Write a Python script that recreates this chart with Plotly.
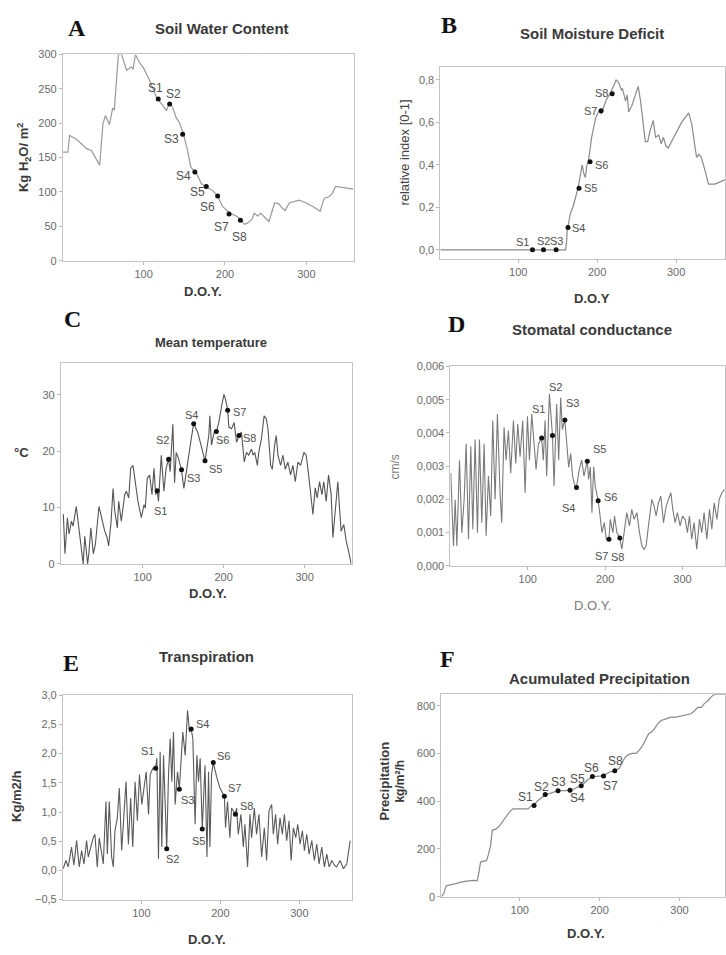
import plotly.graph_objects as go

W, H = 726, 955

SAMPLE_NAME = ["S1", "S2", "S3", "S4", "S5", "S6", "S7", "S8"]
SAMPLE_DAY = [118, 132, 148, 163, 177, 191, 205, 219]

# A - soil water content (Kg H2O / m2)
SWC_DAY = [1, 7, 9, 17, 30, 36, 46, 50, 53, 58, 62, 64, 69, 73, 79, 85, 87, 90, 94, 100,
           107, 116, 124, 128, 132, 136, 140, 144, 149, 154, 158, 165, 171, 177, 185, 191,
           197, 206, 214, 219, 224, 228, 233, 236, 240, 244, 251, 254, 261, 266, 270, 274,
           279, 285, 291, 300, 308, 317, 322, 328, 332, 336, 343, 358]
SWC_VAL = [158, 158, 182, 177, 163, 160, 139, 199, 211, 198, 222, 219, 300, 300, 277, 282,
           278, 300, 290, 280, 263, 237, 225, 218, 230, 222, 208, 201, 184, 160, 136, 127,
           112, 108, 102, 94, 79, 69, 65, 60, 53, 55, 60, 69, 65, 69, 60, 57, 84, 83, 77, 73,
           84, 86, 88, 84, 79, 72, 91, 93, 98, 108, 107, 104]
SWC_SAMPLE = [235, 228, 184, 129, 108, 94, 68, 59]

# B - soil moisture deficit (relative index)
SMD_DAY = [1, 160, 161, 162, 166, 170, 176, 179, 181, 183, 185, 187, 189, 193, 198, 203,
           205, 208, 212, 217, 221, 224, 227, 231, 232, 236, 238, 240, 244, 248, 252, 255,
           259, 261, 264, 267, 271, 274, 278, 281, 284, 287, 290, 297, 307, 316, 320, 323,
           326, 329, 332, 337, 341, 349, 362]
SMD_VAL = [0, 0, 0.03, 0.09, 0.17, 0.21, 0.295, 0.37, 0.40, 0.36, 0.34, 0.40, 0.42, 0.53,
           0.62, 0.66, 0.64, 0.67, 0.71, 0.74, 0.77, 0.80, 0.79, 0.75, 0.76, 0.70, 0.73,
           0.65, 0.68, 0.73, 0.77, 0.70, 0.56, 0.51, 0.51, 0.56, 0.61, 0.53, 0.54, 0.50,
           0.53, 0.49, 0.48, 0.53, 0.60, 0.645, 0.59, 0.51, 0.435, 0.45, 0.435, 0.37, 0.31,
           0.31, 0.33]
SMD_SAMPLE = [0, 0, 0, 0.105, 0.29, 0.415, 0.655, 0.735]

# C - mean temperature (deg C)
TMP_DAY = [2, 4, 7, 9, 12, 14, 18, 21, 24, 26.5, 28.5, 32, 33.5, 36, 39, 41.6, 46, 48, 53,
           56, 58, 61, 63.4, 65.5, 68.7, 70.4, 73.6, 77.8, 79.8, 82.8, 85.2, 88, 92, 94.2,
           98.3, 101.6, 103.2, 105.7, 108.6, 111.5, 114, 116, 118, 119.5, 123, 126.2, 129,
           132, 134, 137.3, 139.4, 141.4, 144.3, 148, 150.9, 153.7, 156.7, 160, 163, 168,
           174.3, 177, 181.7, 183, 185, 188.3, 191, 194, 197.5, 200.4, 202.4, 205, 206.5,
           209.8, 213, 216, 219, 222, 225.5, 228.3, 231, 234.4, 236.4, 238.5, 241.7, 243.4,
           246.7, 250, 252.8, 254.8, 258.1, 260.2, 263, 265, 267.1, 270.4, 273.3, 276.2,
           279.4, 282.7, 285.6, 288.5, 291.8, 295.1, 299.2, 302, 305, 308.2, 310.3, 313.2,
           315.6, 318.5, 321.4, 323.8, 326.7, 329.6, 332.9, 335, 337.8, 341.1, 343.2, 345.2,
           348.5, 351.4, 354.3, 357.6]
TMP_VAL = [8.8, 1.8, 8.2, 5.3, 7.6, 6.7, 10.2, 6.4, 3.5, 0, 4.9, 0, 1.8, 6.4, 1.8, 3.5,
           10.2, 8.8, 5.9, 4.7, 3.2, 7.6, 13.4, 9.4, 6.4, 11.1, 7.6, 12.3, 12.9, 11.7, 17,
           17.5, 13.4, 11.1, 8.2, 10.5, 9.9, 15.2, 15.8, 12.3, 17, 12.3, 13.0, 11.1, 19.3,
           12.9, 17, 18.6, 16.4, 24.8, 14.4, 19.8, 18.7, 16.7, 13.4, 16.3, 19.3, 22.2, 24.9,
           23.4, 19.8, 18.3, 22.8, 26.3, 21.1, 23.4, 23.5, 25.1, 28, 30.1, 29.2, 27.3, 24.3,
           24, 25.1, 21.6, 22.8, 23.4, 18.1, 19.8, 19.3, 20.4, 19.3, 19.8, 17.5, 19.8, 22.2,
           26.3, 25.7, 24, 17.5, 16.8, 21.1, 22.8, 19.3, 17.5, 19.3, 16.8, 18.1, 15.8, 17.5,
           14.6, 18.1, 17.5, 19.8, 19.3, 15.8, 11.1, 8.8, 13.5, 11.7, 14.6, 12.3, 14.6, 11.1,
           15.8, 12.3, 4.7, 8.8, 14.6, 9.9, 5.8, 7, 4.1, 2.3, 0]
TMP_SAMPLE = [13.0, 18.6, 16.7, 24.9, 18.3, 23.5, 27.3, 22.8]

# D - stomatal conductance (cm/s)
GS_DAY = [0.5, 1.8, 4, 6.2, 8.4, 11.8, 14.8, 17.8, 20.4, 23.4, 26.4, 29, 32, 35, 37.6, 40.6,
          43.6, 46.2, 49.2, 52.2, 54.8, 57.8, 60.8, 64.2, 66.4, 69.4, 72, 75, 78, 81.5, 84.5,
          87.1, 90.1, 93.5, 96.6, 99.6, 102.2, 105.2, 108.2, 110.8, 113.8, 118, 120.2, 122.4,
          124.5, 128, 132, 134, 137.4, 140, 142.6, 144.7, 148, 150.3, 152.9, 155.5, 158, 161,
          163, 166.6, 169.7, 172.7, 177, 178.7, 180.9, 183, 185.2, 187.3, 191, 193, 196, 199,
          201.5, 205, 206.7, 210, 212.2, 215.2, 219, 221.7, 224.7, 228, 231.5, 234.5, 237.5,
          241, 244.5, 247.5, 250.5, 253, 256, 258.3, 260.4, 263.4, 266, 269, 272, 275.5, 279,
          282, 285, 287.5, 290.5, 293.5, 297, 300, 303.4, 306.5, 309, 312, 315, 318.5, 322,
          325, 328, 331.5, 335, 338, 341, 344.5, 347.5, 351, 354.5]
GS_VAL = [0.00279, 0.00199, 0.0006, 0.00199, 0.0006, 0.00318, 0.0010, 0.0020, 0.00367,
          0.0008, 0.0036, 0.0011, 0.0038, 0.0010, 0.0038, 0.0013, 0.00367, 0.0009, 0.0027,
          0.0015, 0.00437, 0.0020, 0.00457, 0.0022, 0.0013, 0.00417, 0.00318, 0.00407,
          0.00279, 0.00437, 0.00308, 0.00427, 0.00328, 0.00437, 0.0022, 0.0045, 0.00318,
          0.00457, 0.00367, 0.0029, 0.00367, 0.00385, 0.00318, 0.00437, 0.0027, 0.00517,
          0.00392, 0.0024, 0.00487, 0.00318, 0.00506, 0.0041, 0.00439, 0.00367, 0.00297,
          0.00338, 0.0027, 0.0024, 0.00236, 0.0029, 0.00318, 0.0027, 0.00315, 0.0026,
          0.00298, 0.0016, 0.00298, 0.0024, 0.00196, 0.0016, 0.0010, 0.0013, 0.0008, 0.0008,
          0.0014, 0.0010, 0.0015, 0.0010, 0.00084, 0.0005, 0.0010, 0.0016, 0.0012, 0.0017,
          0.0014, 0.0016, 0.0010, 0.0006, 0.0005, 0.0006, 0.0012, 0.0017, 0.0020, 0.0018,
          0.0015, 0.0019, 0.0021, 0.0013, 0.0018, 0.0020, 0.0022, 0.0017, 0.0013, 0.0016,
          0.0012, 0.0015, 0.0014, 0.0010, 0.0015, 0.0008, 0.0013, 0.0005, 0.0014, 0.0010,
          0.0016, 0.0008, 0.0017, 0.0011, 0.0019, 0.0014, 0.0020, 0.0022, 0.0023]
GS_SAMPLE = [0.00385, 0.00392, 0.00439, 0.00236, 0.00315, 0.00196, 0.0008, 0.00084]

# E - transpiration (Kg/m2/h)
TR_DAY = [1, 4.4, 7.3, 11.5, 14.5, 17.9, 21.3, 24.3, 27.3, 30.6, 32.7, 35.7, 39, 41.1, 44.1,
          46.6, 49.6, 51.7, 55.1, 56.8, 59.3, 62.3, 64.4, 66.5, 69.5, 72, 75, 77.1, 80.5,
          83.5, 86.4, 89, 92, 94.9, 97.5, 100.5, 103.5, 106, 109, 111.1, 114.5, 118, 119.5,
          121.6, 123.7, 125.8, 128, 132, 134.3, 136.4, 138.5, 140.6, 142.7, 145.7, 148,
          149.9, 152.4, 155.4, 158.4, 160.9, 163, 165.1, 168, 170.2, 172.3, 174.4, 177,
          180.5, 183, 185, 186.7, 188.8, 191, 195.1, 199.4, 205, 206.5, 209, 212, 214.1, 219,
          220.5, 222.6, 226, 229, 231, 234.4, 237.4, 239.5, 242.9, 245.8, 248.8, 252.2,
          255.6, 258.5, 261.5, 264.9, 267, 269.9, 272.5, 275.5, 278.4, 281, 283.9, 286.9,
          289.5, 292.4, 295.4, 297.9, 300.9, 303.8, 306.4, 309.3, 312.3, 315.7, 319, 322,
          325, 328.3, 331.7, 334.7, 337.6, 341, 344.4, 347, 351.6, 355.8, 360, 364.3]
TR_VAL = [0.03, 0.17, 0.06, 0.40, 0.09, 0.51, 0.06, 0.34, 0.11, 0.51, 0.23, 0.40, 0.56, 0.62,
          0.06, 0.56, 0.28, 0.11, 1.18, 0.28, 1.18, 0.23, 0.06, 0.68, 0.90, 1.41, 0.34, 0.73,
          1.52, 0.45, 1.24, 0.40, 1.52, 0.85, 1.64, 1.13, 1.47, 1.69, 0.96, 1.64, 1.75, 1.75,
          1.92, 0.20, 2.03, 0.40, 1.97, 0.37, 1.64, 2.26, 1.52, 2.37, 1.13, 1.69, 1.39, 1.80,
          2.37, 1.97, 2.74, 2.37, 2.42, 2.26, 0.79, 1.97, 1.52, 1.92, 0.71, 1.80, 0.23, 1.69,
          0.40, 1.64, 1.85, 1.61, 1.41, 1.27, 0.73, 1.18, 0.56, 1.07, 0.96, 1.07, 0.62, 0.96,
          0.40, 0.79, 0.06, 0.96, 0.56, 1.07, 0.62, 0.96, 0.23, 0.73, 0.17, 1.02, 1.13, 0.62,
          0.96, 0.45, 0.90, 0.62, 0.96, 0.51, 0.85, 0.17, 0.73, 0.56, 0.79, 0.45, 0.68, 0.34,
          0.62, 0.28, 0.51, 0.17, 0.45, 0.11, 0.40, 0.06, 0.28, 0.06, 0.17, 0.09, 0.06, 0.17,
          0.03, 0.11, 0.51]
TR_SAMPLE = [1.75, 0.37, 1.39, 2.42, 0.71, 1.85, 1.27, 0.96]

# F - accumulated precipitation (kg/m2)
PR_DAY = [2, 5, 8, 13, 20, 28, 32, 36, 43, 47, 49, 51, 55, 58.6, 60.7, 63.6, 65.7, 70, 74,
          77.4, 81.6, 86.6, 91.6, 97, 103, 110.5, 113.8, 118, 122, 126.4, 132, 139, 145,
          148, 157.7, 163, 168.2, 172.4, 177, 180.8, 185, 191, 195.4, 201.7, 205, 210, 214.2,
          219, 224.7, 228, 231, 235, 240.6, 245.6, 249.8, 254, 257.3, 261.5, 264.9, 268.6,
          272.8, 277, 283.3, 289.5, 295.8, 302, 308.4, 314.6, 318.8, 323, 327.2, 331.4,
          335.6, 339.7, 343.9, 358]
PR_VAL = [0, 14, 46, 51, 55, 62, 65, 66, 68, 67, 103, 145, 149, 152, 175, 214, 279, 283, 294,
          310, 331, 352, 368, 368, 368, 368, 379, 383, 400, 414, 428, 434, 441, 444, 444, 446,
          451, 459, 465, 476, 490, 503, 503, 503, 506, 517, 524, 528, 538, 559, 579, 593, 600,
          600, 614, 634, 655, 683, 690, 703, 724, 738, 745, 752, 752, 756, 763, 766, 779, 793,
          793, 810, 821, 837, 848, 848]
PR_SAMPLE = [382, 428, 444, 446, 465, 503, 506, 528]

SANS = "Liberation Sans, Arial, sans-serif"
SERIF = "Liberation Serif, Times New Roman, serif"


def fx(px):
    return px / W


def fy(py):
    return 1 - py / H


# panel boxes in pixels: left, right, top, bottom
PANELS = [
    dict(box=(63, 354, 49, 258), xr=[0.8, 358], yr=[0, 300], dtick=50, fmt="d",
         day=SWC_DAY, val=SWC_VAL, samp=SWC_SAMPLE, color="#9a9a9a", lw=1.2, tick=11,
         lab_size=12,
         offs=[(-3, -11), (4, -10), (-11, 5), (-11, 4), (-9, 6), (-10, 11), (-8, 13), (-1, 17)]),
    dict(box=(441, 726, 62, 256), xr=[1.3, 362], yr=[-0.042, 0.86], dtick=0.2, fmt=".1f",
         day=SMD_DAY, val=SMD_VAL, samp=SMD_SAMPLE, color="#8a8a8a", lw=1.2, tick=11,
         lab_size=11,
         offs=[(-10, -8), (0, -9), (0, -9), (11, 0), (11, 0), (11, 3), (-11, 0), (-11, -1)]),
    dict(box=(61, 352, 362, 565), xr=[-1, 358], yr=[0, 35.6], dtick=10, fmt="d",
         day=TMP_DAY, val=TMP_VAL, samp=TMP_SAMPLE, color="#555555", lw=1.1, tick=11,
         lab_size=11,
         offs=[(3, 20), (-6, -19), (12, 8), (-2, -9), (10, 8), (6, 8), (12, 2), (11, 2)]),
    dict(box=(451, 726, 365, 567), xr=[0, 355], yr=[0, 0.006], dtick=0.001, fmt=".3f",
         day=GS_DAY, val=GS_VAL, samp=GS_SAMPLE, color="#7a7a7a", lw=1.1, tick=11,
         lab_size=11,
         offs=[(-3, -29), (3, -49), (8, -17), (-8, 21), (12, -12), (12, -4), (-7, 17), (-2, 19)]),
    dict(box=(63, 352, 698, 905), xr=[0.6, 366], yr=[-0.5, 3.0], dtick=0.5, fmt=".1f",
         day=TR_DAY, val=TR_VAL, samp=TR_SAMPLE, color="#5a5a5a", lw=1.1, tick=11,
         lab_size=11,
         offs=[(-8, -17), (6, 10), (8, 11), (11, -5), (-4, 12), (10, -6), (10, -8), (11, -8)]),
    dict(box=(442, 726, 697, 902), xr=[2, 357], yr=[0, 848], dtick=200, fmt="d",
         day=PR_DAY, val=PR_VAL, samp=PR_SAMPLE, color="#8a8a8a", lw=1.2, tick=11,
         lab_size=12,
         offs=[(-9, -8), (-4, -8), (0, -9), (7, 8), (-4, -7), (-1, -9), (7, 10), (1, -10)]),
]

fig = go.Figure()
annotations = []
layout_axes = {}

for i, p in enumerate(PANELS, start=1):
    xa = "x" if i == 1 else f"x{i}"
    ya = "y" if i == 1 else f"y{i}"
    left, right, top, bottom = p["box"]
    axis_common = dict(
        showline=True, mirror=True, linecolor="#c4c4c4", linewidth=1,
        ticks="outside", ticklen=3, tickcolor="#b8b8b8", showgrid=False, zeroline=False,
        tickfont=dict(family=SANS, size=p["tick"], color="#6a6a6a"),
    )
    layout_axes["xaxis" if i == 1 else f"xaxis{i}"] = dict(
        domain=[fx(left), fx(right)], range=p["xr"], anchor=ya,
        tickvals=[100, 200, 300], **axis_common)
    layout_axes["yaxis" if i == 1 else f"yaxis{i}"] = dict(
        domain=[fy(bottom), fy(top)], range=p["yr"], anchor=xa,
        dtick=p["dtick"], tick0=0, tickformat=p["fmt"], **axis_common)

    fig.add_trace(go.Scatter(
        x=p["day"], y=p["val"], xaxis=xa, yaxis=ya, mode="lines",
        line=dict(color=p["color"], width=p["lw"]), cliponaxis=True, showlegend=False,
        hoverinfo="skip"))
    fig.add_trace(go.Scatter(
        x=SAMPLE_DAY, y=p["samp"], xaxis=xa, yaxis=ya, mode="markers",
        marker=dict(color="#111111", size=5), showlegend=False))
    for name, d, v, (dx, dy) in zip(SAMPLE_NAME, SAMPLE_DAY, p["samp"], p["offs"]):
        annotations.append(dict(
            x=d, y=v, xref=xa, yref=ya, text=name, showarrow=False,
            xshift=dx, yshift=-dy, xanchor="center", yanchor="middle",
            font=dict(family=SANS, size=p["lab_size"], color="#505050")))


def note(text, x, y, size, bold=False, color="#333333", family=SANS, angle=0):
    annotations.append(dict(
        x=fx(x), y=fy(y), xref="paper", yref="paper", showarrow=False,
        text=f"<b>{text}</b>" if bold else text, textangle=angle,
        xanchor="center", yanchor="middle",
        font=dict(family=family, size=size, color=color)))


# panel letters
for letter, x, y in [("A", 77, 22), ("B", 450, 19), ("C", 73, 317),
                     ("D", 457, 322), ("E", 71, 665), ("F", 448, 661)]:
    note(letter, x, y, 24, bold=True, color="#111111", family=SERIF)

# panel titles
note("Soil Water Content", 222, 23, 15, bold=True, color="#3a3a3a")
note("Soil Moisture Deficit", 593, 28, 15, bold=True, color="#3a3a3a")
note("Mean temperature", 211, 341, 13, bold=True, color="#3a3a3a")
note("Stomatal conductance", 593, 328, 15, bold=True, color="#3a3a3a")
note("Transpiration", 207, 659, 15, bold=True, color="#3a3a3a")
note("Acumulated Precipitation", 600, 681, 15, bold=True, color="#3a3a3a")

# x-axis titles
note("D.O.Y.", 203, 289, 13, bold=True, color="#3a3a3a")
note("D.O.Y", 593, 296, 13, bold=True, color="#3a3a3a")
note("D.O.Y.", 208, 595, 13, bold=True, color="#3a3a3a")
note("D.O.Y.", 593, 607, 13, color="#7a7a7a")
note("D.O.Y.", 207, 945, 13, bold=True, color="#3a3a3a")
note("D.O.Y.", 587, 939, 13, bold=True, color="#3a3a3a")

# y-axis titles
note("Kg H<sub>2</sub>O/ m<sup>2</sup>", 24, 153, 13, bold=True, color="#3a3a3a", angle=-90)
note("relative index [0-1]", 405, 148, 13, color="#444444", angle=-90)
note("°C", 22, 452, 13, bold=True, color="#3a3a3a")
note("cm/s", 396, 467, 12, color="#7a7a7a", angle=-90)
note("Kg/m2/h", 17, 800, 13, bold=True, color="#3a3a3a", angle=-90)
note("Precipitation", 385, 785, 13, bold=True, color="#3a3a3a", angle=-90)
note("kg/m²/h", 401, 785, 12, bold=True, color="#3a3a3a", angle=-90)

fig.update_layout(
    width=W, height=H, margin=dict(l=0, r=0, t=0, b=0),
    paper_bgcolor="white", plot_bgcolor="white",
    separators=",.", showlegend=False,
    annotations=annotations, **layout_axes)

fig.write_html("out.html")
